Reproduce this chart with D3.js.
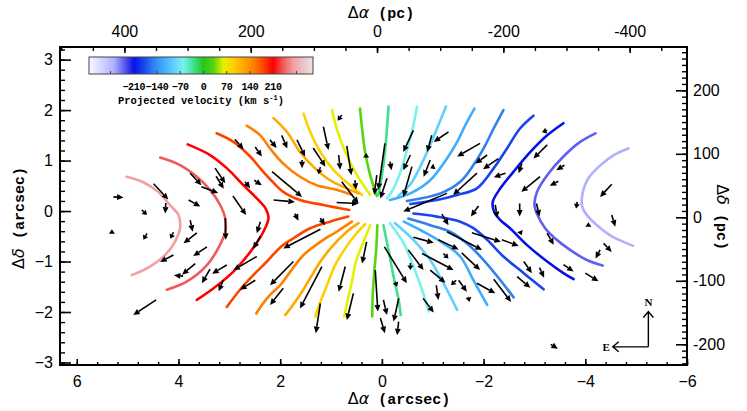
<!DOCTYPE html>
<html>
<head>
<meta charset="utf-8">
<script src="https://cdn.jsdelivr.net/npm/d3@7"></script>
<style>
  body { margin: 0; background: #fff; }
  svg { display: block; }
</style>
</head>
<body>
<svg id="chart" width="747" height="411"></svg>
<script>
// isovelocity levels (km/s), east side positive, west side negative
const levels = [30, 60, 90, 120, 150, 180, 210, 240, 270];

// traced contour branches, [dRA, dDec] in arcsec
const eastUpper = [
  [[0.43,2.03],[0.39,1.64],[0.33,1.17],[0.23,0.71],[0.10,0.30]],
  [[0.98,2.00],[0.89,1.64],[0.72,1.17],[0.49,0.71],[0.23,0.32]],
  [[1.54,1.93],[1.41,1.57],[1.21,1.17],[0.95,0.81],[0.62,0.51],[0.39,0.32]],
  [[2.13,1.84],[1.87,1.57],[1.61,1.17],[1.35,0.88],[1.02,0.61],[0.69,0.45],[0.46,0.35]],
  [[2.66,1.69],[2.39,1.50],[2.20,1.24],[1.94,0.94],[1.61,0.68],[1.28,0.51],[0.89,0.42],[0.59,0.32]],
  [[3.25,1.54],[2.92,1.37],[2.59,1.08],[2.36,0.81],[2.16,0.59],[1.94,0.38],[1.61,0.22],[1.15,0.12],[0.64,0.02]]
];
const eastLower = [
  [[0.09,-0.28],[0.11,-0.74],[0.15,-1.20],[0.18,-1.66],[0.19,-2.09]],
  [[0.23,-0.28],[0.36,-0.61],[0.51,-1.00],[0.59,-1.40],[0.68,-1.80],[0.74,-2.09]],
  [[0.33,-0.26],[0.53,-0.48],[0.72,-0.74],[0.92,-1.07],[1.08,-1.47],[1.21,-1.80],[1.31,-2.09]],
  [[0.46,-0.24],[0.69,-0.41],[0.95,-0.67],[1.21,-1.00],[1.41,-1.33],[1.61,-1.66],[1.80,-1.93],[1.90,-2.06]],
  [[0.59,-0.21],[0.89,-0.41],[1.21,-0.61],[1.54,-0.87],[1.80,-1.20],[2.00,-1.47],[2.20,-1.66],[2.36,-1.86],[2.47,-2.03]],
  [[0.66,-0.11],[1.02,-0.21],[1.41,-0.34],[1.74,-0.54],[2.00,-0.72],[2.26,-1.00],[2.53,-1.27],[2.79,-1.56],[3.05,-1.90]]
];
const eastLoops = [
  [[3.82,1.32],[3.38,1.11],[3.05,0.85],[2.72,0.51],[2.43,0.22],[2.28,0.04],[2.23,-0.14],[2.33,-0.41],[2.59,-0.81],[2.92,-1.20],[3.31,-1.53],[3.64,-1.76]],
  [[4.36,1.06],[3.97,0.91],[3.64,0.68],[3.38,0.42],[3.18,0.12],[3.08,-0.15],[3.08,-0.41],[3.22,-0.74],[3.44,-1.07],[3.84,-1.40],[4.23,-1.56]],
  [[5.02,0.68],[4.69,0.57],[4.40,0.38],[4.17,0.12],[4.00,-0.08],[3.97,-0.34],[4.07,-0.61],[4.26,-0.87],[4.56,-1.10],[4.92,-1.27]]
];
const westUpper = [
  [[-0.13,2.07],[-0.10,1.64],[-0.06,1.17],[0.00,0.71],[0.07,0.32]],
  [[-0.69,2.07],[-0.62,1.70],[-0.52,1.31],[-0.39,0.85],[-0.23,0.45],[-0.10,0.25]],
  [[-1.26,2.07],[-1.11,1.70],[-0.95,1.31],[-0.75,0.87],[-0.56,0.53],[-0.32,0.30]],
  [[-1.82,2.03],[-1.64,1.70],[-1.48,1.37],[-1.28,1.04],[-0.95,0.61],[-0.56,0.35],[-0.16,0.22]],
  [[-2.39,2.00],[-2.20,1.64],[-2.00,1.24],[-1.80,0.91],[-1.54,0.58],[-1.15,0.35],[-0.49,0.20]],
  [[-2.98,1.89],[-2.72,1.64],[-2.46,1.24],[-2.20,0.85],[-1.87,0.45],[-1.48,0.32],[-1.08,0.22],[-0.56,0.14]]
];
const westLower = [
  [[-0.03,-0.28],[-0.13,-0.77],[-0.23,-1.30],[-0.33,-1.76],[-0.37,-2.06]],
  [[-0.16,-0.24],[-0.43,-0.64],[-0.62,-1.10],[-0.79,-1.56],[-0.92,-1.99]],
  [[-0.26,-0.24],[-0.62,-0.57],[-0.95,-0.97],[-1.21,-1.43],[-1.48,-1.96]],
  [[-0.43,-0.21],[-0.82,-0.41],[-1.21,-0.64],[-1.54,-0.90],[-1.80,-1.37],[-2.07,-1.86]],
  [[-0.52,-0.15],[-0.95,-0.28],[-1.34,-0.41],[-1.67,-0.64],[-2.00,-0.97],[-2.33,-1.37],[-2.59,-1.71]],
  [[-0.62,-0.05],[-1.08,-0.11],[-1.54,-0.21],[-1.80,-0.34],[-2.07,-0.57],[-2.39,-0.90],[-2.79,-1.23],[-3.18,-1.55]]
];
const westLoops = [
  [[-3.57,1.74],[-3.25,1.50],[-2.92,1.17],[-2.59,0.78],[-2.33,0.45],[-2.18,0.18],[-2.21,-0.02],[-2.33,-0.18],[-2.52,-0.34],[-2.85,-0.67],[-3.25,-1.00],[-3.57,-1.23],[-3.77,-1.35]],
  [[-4.20,1.54],[-3.90,1.37],[-3.57,1.08],[-3.25,0.71],[-3.05,0.38],[-3.00,0.12],[-3.06,-0.08],[-3.21,-0.34],[-3.38,-0.52],[-3.70,-0.77],[-4.03,-0.97],[-4.34,-1.08]],
  [[-4.85,1.24],[-4.56,1.11],[-4.30,0.91],[-4.06,0.65],[-3.94,0.32],[-3.94,0.08],[-4.03,-0.08],[-4.23,-0.28],[-4.49,-0.48],[-4.75,-0.61],[-4.94,-0.69]]
];

// flow vectors: tail [dRA, dDec] -> head [dRA, dDec], arcsec
const flowArrows = [
  [5.28,0.28,5.08,0.27],[4.49,0.54,4.20,0.23],[3.80,0.22,3.57,0.09],[4.72,0.02,4.62,-0.08],
  [4.25,0.16,4.26,-0.05],[5.31,-0.42,5.31,-0.36],[4.62,-0.44,4.69,-0.57],[4.10,-0.42,4.16,-0.55],
  [3.77,-0.18,3.72,-0.41],[3.64,-0.43,3.90,-0.64],[3.08,-0.14,3.07,-0.57],[2.39,-0.21,2.46,-0.44],
  [3.44,-0.71,3.71,-0.89],[4.10,-0.87,4.36,-1.01],[2.39,-0.50,2.53,-0.75],[3.67,-1.04,3.93,-1.26],
  [3.91,-1.29,4.09,-1.27],[3.05,-1.07,3.34,-1.24],[3.38,-1.15,3.54,-1.43],[2.46,-0.90,2.92,-1.17],
  [1.74,-1.00,2.20,-1.47],[1.21,-0.36,1.94,-0.74],[2.49,-1.37,2.79,-1.56],[3.12,-1.37,3.21,-1.59],
  [1.94,-1.53,2.20,-1.86],[1.18,-1.10,1.61,-1.93],[4.44,-1.76,4.89,-2.06],[0.72,-1.10,0.85,-1.60],
  [0.30,-0.61,0.39,-1.04],[1.21,-1.83,1.30,-2.42],[0.56,-1.63,0.69,-2.16],[0.13,-1.17,0.08,-1.99],
  [2.93,0.30,2.67,-0.08],[1.71,-0.05,1.64,-0.19],[1.21,-0.14,1.12,-0.28],
  [3.77,0.75,3.55,0.51],[3.55,0.48,3.22,0.36],[3.28,0.85,3.08,0.55],[3.26,0.69,3.11,0.44],
  [2.89,1.42,2.72,1.22],[2.49,1.27,2.36,1.08],[2.69,0.58,2.59,0.45],[2.51,0.61,2.36,0.51],
  [2.20,1.41,2.07,1.25],[1.97,1.50,1.86,1.24],[1.67,1.41,1.51,1.08],[1.57,1.01,1.57,0.85],
  [1.35,1.25,1.11,0.88],[1.21,0.87,1.25,0.73],[1.15,1.67,1.05,1.21],[0.85,1.11,0.82,0.82],
  [0.79,1.90,0.87,1.79],[0.69,1.29,0.60,0.71],[0.79,0.58,0.46,0.15],[0.53,0.61,0.51,0.42],
  [0.31,1.05,0.31,1.15],[2.16,0.78,1.57,0.28],[2.13,0.22,1.71,0.18],[0.89,0.17,0.46,0.15],
  [0.10,0.71,0.15,0.32],[-0.10,0.65,0.03,0.25],[-0.06,1.34,0.07,0.42],[-0.16,0.98,-0.19,0.81],
  [-0.62,1.60,-0.42,1.17],[-0.98,1.50,-0.89,1.17],[-1.31,1.57,-1.02,1.37],[-0.56,1.11,-0.42,0.81],
  [-0.95,1.01,-0.82,0.68],[-1.02,0.88,-0.95,0.85],[-0.59,0.88,-0.42,0.28],[-1.93,1.34,-1.48,1.08],
  [-2.07,1.11,-1.84,0.94],[-2.29,1.04,-1.99,0.83],[-2.43,0.75,-2.20,0.67],[-1.87,0.75,-1.40,0.32],
  [-1.28,0.35,-0.42,-0.01],[-3.25,1.60,-3.15,1.56],[-3.25,1.31,-2.98,1.04],[-2.75,0.94,-2.69,0.75],
  [-3.11,0.68,-2.74,0.38],[-3.59,0.91,-3.43,0.81],[-3.47,0.59,-3.30,0.50],[-4.52,0.53,-4.29,0.28],
  [-3.84,0.18,-3.82,0.05],
  [-1.90,0.10,-1.75,-0.11],[-2.23,0.12,-2.27,-0.14],[-2.71,0.15,-2.71,-0.11],[-3.04,0.15,-3.10,-0.11],
  [-1.18,-0.06,-1.31,-0.28],[-2.72,-0.41,-2.75,-0.48],[-1.77,-0.43,-2.34,-0.61],[-2.36,-0.57,-2.69,-0.69],
  [-1.28,-0.41,-1.97,-0.77],[-1.11,-0.57,-1.51,-0.76],[-0.62,-0.52,-1.02,-0.63],[-0.05,-0.71,-0.49,-1.43],
  [-0.52,-0.77,-0.82,-1.17],[-0.79,-0.84,-1.41,-1.17],[-1.21,-0.84,-1.31,-0.94],[-1.57,-0.83,-1.93,-1.17],
  [-0.56,-1.03,-0.56,-1.17],[-0.95,-1.17,-1.25,-1.42],[-1.46,-1.37,-1.36,-1.47],[-1.51,-1.37,-1.67,-1.60],
  [-1.70,-1.70,-1.72,-1.80],[-1.87,-1.43,-2.23,-1.63],[-2.20,-1.35,-2.54,-1.80],[-1.07,-1.47,-1.11,-1.76],
  [-0.81,-1.73,-1.02,-2.01],[-3.25,-0.44,-3.38,-0.67],[-2.79,-1.00,-2.95,-1.23],[-3.10,-1.12,-3.19,-1.32],
  [-3.57,-1.06,-3.77,-1.20],[-4.00,-1.23,-4.26,-1.39],[-2.66,-1.30,-2.92,-1.52],[-4.52,-0.08,-4.59,-0.31],
  [-4.06,-0.30,-4.06,-0.22],[-4.36,-0.64,-4.52,-0.81],[-4.29,-0.77,-4.20,-0.94],[-3.32,-2.64,-3.46,-2.73],
  [-0.33,-1.73,-0.23,-2.19],[-0.03,-1.76,-0.10,-2.06],[0.03,-2.12,-0.06,-2.42],[-0.33,-2.19,-0.30,-2.46],
  [-0.26,-1.40,-0.30,-1.50]
];

// colour table of the velocity bar
const colorStops = [
  [-345, '#fbfbff'], [-270, '#b0b0ff'], [-240, '#6060f0'], [-210, '#0810e8'],
  [-180, '#1a44f0'], [-150, '#3080f0'], [-120, '#40acff'], [-90, '#60d0ff'],
  [-60, '#78f0f0'], [-30, '#40e08c'], [0, '#20c820'], [30, '#58d410'],
  [60, '#e4f000'], [90, '#ffd000'], [120, '#ffa800'], [150, '#ff8000'],
  [180, '#ff4400'], [210, '#ff0000'], [240, '#f05a5a'], [270, '#f0a0a0'],
  [330, '#ece4e4']
];
const barTicks = [-210, -140, -70, 0, 70, 140, 210];
const barMinor = [-280, -210, -140, -70, 0, 70, 140, 210, 280];

// axis ticks
const xTicks = [6, 4, 2, 0, -2, -4, -6];
const yTicks = [3, 2, 1, 0, -1, -2, -3];
const xPcTicks = [400, 200, 0, -200, -400];
const yPcTicks = [200, 100, 0, -100, -200];

const svg = d3.select('#chart');
const frame = {left: 60, top: 47, right: 687, bottom: 365};

const x = d3.scaleLinear().domain([6.33, -6.0]).range([frame.left, frame.right]);
const y = d3.scaleLinear().domain([3.25, -3.05]).range([frame.top, frame.bottom]);
const xPc = d3.scaleLinear().domain([502, -490.8]).range([frame.left, frame.right]);
const yPc = d3.scaleLinear().domain([268.2, -232.6]).range([frame.top, frame.bottom]);

const color = d3.scaleLinear()
  .domain(colorStops.map(d => d[0]))
  .range(colorStops.map(d => d[1]))
  .clamp(true);

// contours
const line = d3.line()
  .x(d => x(d[0]))
  .y(d => y(d[1]))
  .curve(d3.curveCatmullRom.alpha(0.5));

const branches = [];
eastUpper.forEach((pts, i) => branches.push({v: levels[i], pts}));
eastLower.forEach((pts, i) => branches.push({v: levels[i], pts}));
eastLoops.forEach((pts, i) => branches.push({v: levels[i + 6], pts}));
westUpper.forEach((pts, i) => branches.push({v: -levels[i], pts}));
westLower.forEach((pts, i) => branches.push({v: -levels[i], pts}));
westLoops.forEach((pts, i) => branches.push({v: -levels[i + 6], pts}));

svg.append('g')
  .selectAll('path')
  .data(branches)
  .join('path')
  .attr('d', d => line(d.pts))
  .attr('fill', 'none')
  .attr('stroke', d => color(d.v))
  .attr('stroke-width', 2.6)
  .attr('stroke-linecap', 'round');

// arrows
const headLen = 6.5, headHalf = 3;
const arrowG = svg.append('g');
flowArrows.forEach(([x0, y0, x1, y1]) => {
  const X0 = x(x0), Y0 = y(y0), X1 = x(x1), Y1 = y(y1);
  const a = Math.atan2(Y1 - Y0, X1 - X0);
  const len = Math.hypot(X1 - X0, Y1 - Y0);
  const hl = len > headLen * 1.2 ? headLen : Math.max(len * 0.6, 4.5);
  const bx = X1 - hl * Math.cos(a), by = Y1 - hl * Math.sin(a);
  if (len > hl) {
    arrowG.append('line')
      .attr('x1', X0).attr('y1', Y0).attr('x2', bx).attr('y2', by)
      .attr('stroke', '#000').attr('stroke-width', 1.6);
  }
  const s = Math.sin(a), c = Math.cos(a);
  arrowG.append('path')
    .attr('d', `M${X1},${Y1}L${bx + headHalf * s},${by - headHalf * c}L${bx - headHalf * s},${by + headHalf * c}Z`)
    .attr('fill', '#000');
});

// axes
function drawAxis(axisFn, scale, major, minor, majorLen, minorLen, pad, fmt, transform) {
  svg.append('g').attr('transform', transform)
    .call(axisFn(scale).tickValues(minor).tickSize(-minorLen).tickFormat(''))
    .call(g => g.select('.domain').remove())
    .call(g => g.selectAll('line').attr('stroke-width', 1.4));
  svg.append('g').attr('transform', transform)
    .attr('font-family', '"Liberation Sans", Arial, sans-serif')
    .call(axisFn(scale).tickValues(major).tickSize(-majorLen).tickPadding(pad).tickFormat(fmt))
    .call(g => g.select('.domain').remove())
    .call(g => g.selectAll('line').attr('stroke-width', 1.6))
    .call(g => g.selectAll('text').attr('font-size', 16).attr('fill', '#000'));
}

const arcFmt = d => (d < 0 ? '\u2212' : '') + Math.abs(d);
const pcFmt = d => String(d);

drawAxis(d3.axisBottom, x, xTicks, d3.range(-15, 16).map(i => i * 0.4).filter(v => v <= 6.33),
  6, 3, 11, arcFmt, `translate(0,${frame.bottom})`);
drawAxis(d3.axisLeft, y, yTicks, d3.range(-15, 17).map(i => i * 0.2),
  11, 5, 7, arcFmt, `translate(${frame.left},0)`);
drawAxis(d3.axisTop, xPc, xPcTicks, d3.range(-9, 11).map(i => i * 50),
  6, 4, 10, pcFmt, `translate(0,${frame.top})`);
drawAxis(d3.axisRight, yPc, yPcTicks, d3.range(-23, 27).map(i => i * 10),
  11, 5, 6, pcFmt, `translate(${frame.right},0)`);

svg.append('rect')
  .attr('x', frame.left).attr('y', frame.top)
  .attr('width', frame.right - frame.left).attr('height', frame.bottom - frame.top)
  .attr('fill', 'none').attr('stroke', '#000').attr('stroke-width', 2);

// axis titles
const titleFont = '"Liberation Mono", "Courier New", monospace';
function title(tx, ty, rot, greek, rest) {
  const t = svg.append('text')
    .attr('transform', `translate(${tx},${ty}) rotate(${rot})`)
    .attr('text-anchor', 'middle')
    .attr('font-family', titleFont)
    .attr('font-weight', 'bold')
    .attr('font-size', 15)
    .attr('fill', '#000');
  t.append('tspan').attr('font-family', '"DejaVu Sans", sans-serif').attr('font-weight', 'normal')
    .attr('font-size', 16).text(greek[0]);
  t.append('tspan').attr('font-family', '"DejaVu Sans", sans-serif').attr('font-weight', 'normal')
    .attr('font-style', 'italic').attr('font-size', 16).text(greek[1]);
  t.append('tspan').text(rest);
}
title(399, 404, 0, ['\u0394', '\u03b1'], ' (arcsec)');
title(381, 18, 0, ['\u0394', '\u03b1'], ' (pc)');
title(24, 218, -90, ['\u0394', '\u03b4'], ' (arcsec)');
title(717, 217, 90, ['\u0394', '\u03b4'], ' (pc)');

// colour bar
const bar = {x0: 89, x1: 313, y0: 57, y1: 74};
const vScale = d3.scaleLinear().domain([-345, 330]).range([bar.x0, bar.x1]);
const barG = svg.append('g');
barG.selectAll('rect')
  .data(d3.range(bar.x0, bar.x1))
  .join('rect')
  .attr('x', d => d).attr('y', bar.y0)
  .attr('width', 1.2).attr('height', bar.y1 - bar.y0)
  .attr('fill', d => color(vScale.invert(d + 0.5)));
barG.append('rect')
  .attr('x', bar.x0).attr('y', bar.y0)
  .attr('width', bar.x1 - bar.x0).attr('height', bar.y1 - bar.y0)
  .attr('fill', 'none').attr('stroke', '#444').attr('stroke-width', 1);
barG.selectAll('line.tk')
  .data(barMinor)
  .join('line')
  .attr('x1', d => vScale(d)).attr('x2', d => vScale(d))
  .attr('y1', bar.y1).attr('y2', bar.y1 - 3)
  .attr('stroke', '#444').attr('stroke-width', 1);
barG.selectAll('text.lb')
  .data(barTicks)
  .join('text')
  .attr('x', d => vScale(d)).attr('y', 90)
  .attr('text-anchor', 'middle')
  .attr('font-family', titleFont).attr('font-weight', 'bold').attr('font-size', 10)
  .attr('letter-spacing', -0.3)
  .text(d => (d < 0 ? '\u2212' : '') + Math.abs(d));
const cap = barG.append('text')
  .attr('x', (bar.x0 + bar.x1) / 2).attr('y', 104)
  .attr('text-anchor', 'middle')
  .attr('font-family', titleFont).attr('font-weight', 'bold').attr('font-size', 10.5);
cap.append('tspan').text('Projected velocity (km s');
cap.append('tspan').attr('font-size', 7).attr('dy', -4).text('-1');
cap.append('tspan').attr('dy', 4).text(')');

// compass
const compass = {at: [-5.24, -2.69], arm: 0.7};
const cx = x(compass.at[0]), cy = y(compass.at[1]);
const nY = y(compass.at[1] + compass.arm), eX = x(compass.at[0] + compass.arm);
const cg = svg.append('g').attr('stroke', '#000').attr('stroke-width', 1.4).attr('fill', 'none');
cg.append('path').attr('d', `M${cx},${cy}V${nY}M${cx - 5},${nY + 6}L${cx},${nY}L${cx + 5},${nY + 6}`);
cg.append('path').attr('d', `M${cx},${cy}H${eX}M${eX + 6},${cy - 5}L${eX},${cy}L${eX + 6},${cy + 5}`);
svg.append('text').attr('x', cx).attr('y', nY - 5).attr('text-anchor', 'middle')
  .attr('font-family', '"Liberation Serif", serif').attr('font-weight', 'bold').attr('font-size', 11).text('N');
svg.append('text').attr('x', eX - 3).attr('y', cy + 4).attr('text-anchor', 'end')
  .attr('font-family', '"Liberation Serif", serif').attr('font-weight', 'bold').attr('font-size', 11).text('E');
</script>
</body>
</html>
